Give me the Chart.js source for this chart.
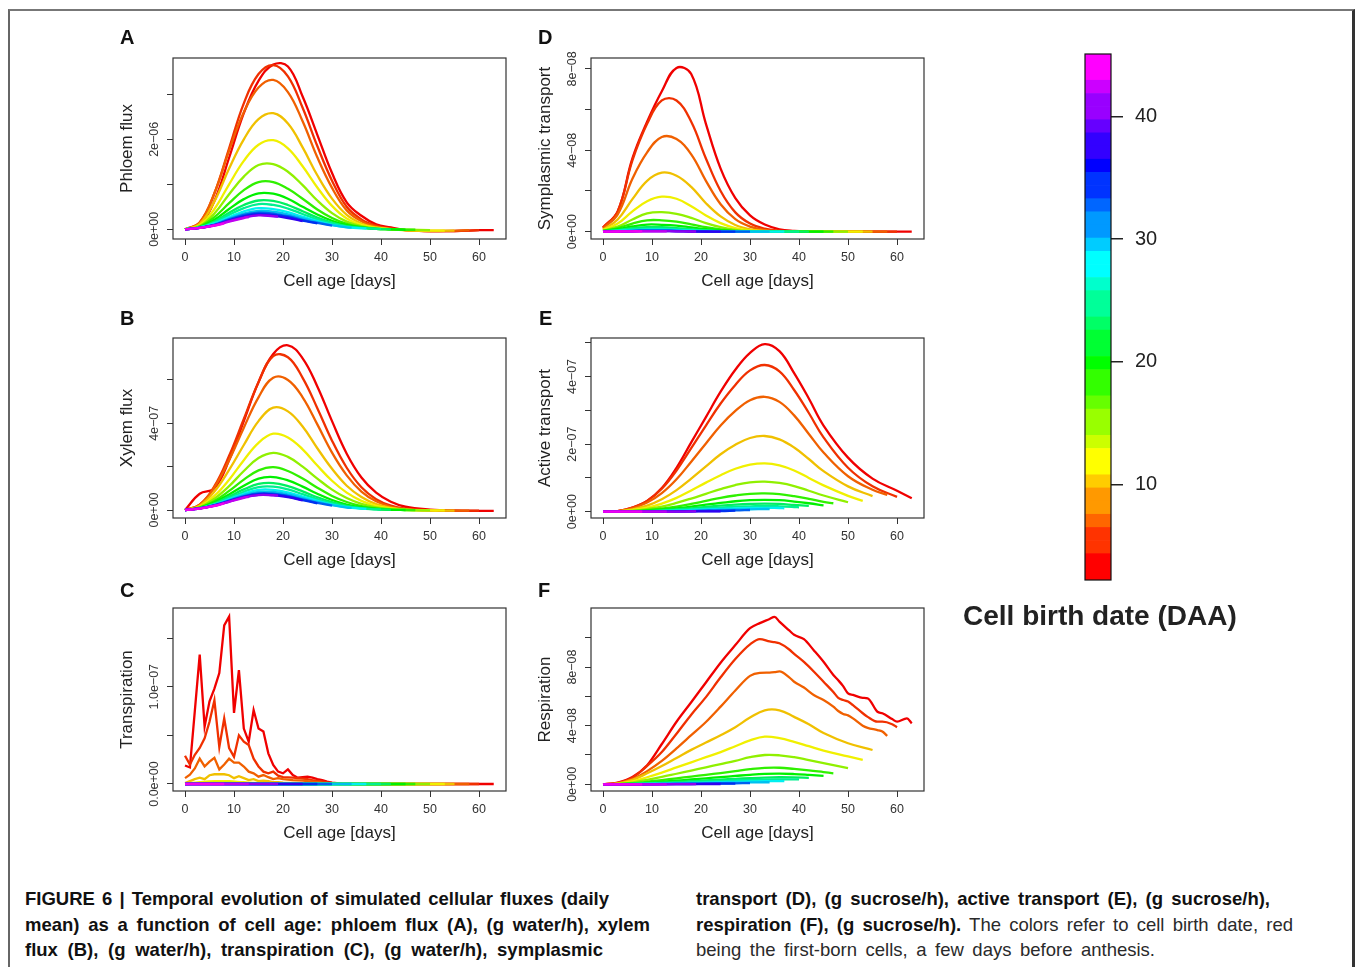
<!DOCTYPE html>
<html><head><meta charset="utf-8"><title>Figure 6</title>
<script src="https://cdn.jsdelivr.net/npm/chart.js@4.4.1/dist/chart.umd.min.js"></script>
<style>
html,body{margin:0;padding:0;background:#fff;width:1355px;height:967px;overflow:hidden;font-family:"Liberation Sans",Arial,sans-serif;}
#frame{position:absolute;left:8px;top:9px;width:1347px;height:1000px;box-sizing:border-box;border-left:2px solid #666;border-top:2px solid #777;border-right:3px solid #333;}
canvas{position:absolute;}
.plabel{position:absolute;font:bold 20px/20px "Liberation Sans",Arial,sans-serif;color:#111;}
#cbtitle{position:absolute;left:963px;top:602px;font:bold 28px/28px "Liberation Sans",Arial,sans-serif;color:#222;white-space:nowrap;}
.cap{position:absolute;font-family:"Liberation Sans Narrow","Liberation Sans",Arial,sans-serif;font-size:18.5px;line-height:25.5px;color:#2a2a2a;white-space:nowrap;transform-origin:left center;}
.cap.b{font-weight:bold;color:#111;}
.cap b{color:#111;}
</style></head>
<body>
<div id="frame"></div>

<canvas id="pA" width="430" height="280" style="left:95px;top:20px"></canvas>
<canvas id="pB" width="430" height="279" style="left:95px;top:300px"></canvas>
<canvas id="pC" width="430" height="282" style="left:95px;top:570px"></canvas>
<canvas id="pD" width="430" height="280" style="left:513px;top:20px"></canvas>
<canvas id="pE" width="430" height="279" style="left:513px;top:300px"></canvas>
<canvas id="pF" width="430" height="282" style="left:513px;top:570px"></canvas>
<canvas id="cbar" width="140" height="580" style="left:1060px;top:30px"></canvas>

<div class="plabel" style="left:120px;top:27px">A</div>
<div class="plabel" style="left:120px;top:308px">B</div>
<div class="plabel" style="left:120px;top:580px">C</div>
<div class="plabel" style="left:538px;top:27px">D</div>
<div class="plabel" style="left:539px;top:308px">E</div>
<div class="plabel" style="left:538px;top:580px">F</div>

<div id="cbtitle">Cell birth date (DAA)</div>

<div class="cap b" data-w="584" style="left:25px;top:886px">FIGURE 6 | Temporal evolution of simulated cellular fluxes (daily</div>
<div class="cap b" data-w="625" style="left:25px;top:911.5px">mean) as a function of cell age: phloem flux (A), (g water/h), xylem</div>
<div class="cap b" data-w="578" style="left:25px;top:937px">flux (B), (g water/h), transpiration (C), (g water/h), symplasmic</div>
<div class="cap b" data-w="574" style="left:696px;top:886px">transport (D), (g sucrose/h), active transport (E), (g sucrose/h),</div>
<div class="cap" data-w="597" style="left:696px;top:911.5px"><b>respiration (F), (g sucrose/h).</b> The colors refer to cell birth date, red</div>
<div class="cap" data-w="459" style="left:696px;top:937px">being the first-born cells, a few days before anthesis.</div>

<script>
// ---------------- data ----------------
const births   = [2,5,7,10,12,15,18,20,23,25,28,30,33,35,38,40,43,45];
const lastAges = [63,60,58,55,53,50,47,45,42,40,37,34,30,27,24,19,13,8];
const ageGrid      = [0,3,6,9,12,15,18,21,24,27,30,33,36,39,42,45,50,55,60];
const ageGridDaily = [0,1,2,3,4,5,6,7,8,9,10,11,12,13,14,15,16,17,18,19,20,21,22,23,24,25,26,27,28,29,30,31,32,36,40,45,50,55,60];
const ageGridResp  = [0,3,6,9,12,15,18,21,24,27,30,32,34,35,36,38,39,41,43,45,47,48,49,50,51,53,54,56,57,59,60,62];
const xTicks = [0,10,20,30,40,50,60];
const xTickLabels = ['0','10','20','30','40','50','60'];

// A: phloem flux (x 1e-6 g water/h)
const yTicksA = [0,1,2,3];
const yTickLabelsA = ['0e+00','','2e\u221206',''];
const phloemFlux = [
 [0,0.11,0.63,1.59,2.58,3.3,3.66,3.62,2.95,2.1,1.25,0.6,0.3,0.11,0.04,-0.02,-0.04,-0.04,-0.02,-0.02],
 [0,0.15,0.8,1.8,2.8,3.45,3.65,3.4,2.7,1.85,1.08,0.5,0.22,0.08,0.02,-0.02,-0.04,-0.04,-0.02],
 [0,0.15,0.8,1.75,2.6,3.15,3.32,3.05,2.4,1.6,0.92,0.42,0.18,0.06,0.01,-0.02,-0.04,-0.03,-0.02],
 [0,0.12,0.62,1.35,2.0,2.45,2.58,2.35,1.82,1.2,0.68,0.32,0.13,0.04,0,-0.02,-0.03,-0.03],
 [0,0.09,0.45,1.0,1.52,1.88,1.98,1.8,1.4,0.93,0.52,0.24,0.1,0.03,0,-0.02,-0.03,-0.03],
 [0,0.07,0.35,0.78,1.17,1.43,1.45,1.28,0.98,0.64,0.36,0.17,0.07,0.02,0,-0.01,-0.02],
 [0,0.06,0.27,0.58,0.87,1.05,1.05,0.9,0.68,0.44,0.25,0.12,0.05,0.01,0,-0.01,-0.01],
 [0,0.05,0.21,0.45,0.67,0.8,0.79,0.68,0.5,0.33,0.19,0.09,0.04,0.01,0,-0.01],
 [0,0.04,0.17,0.37,0.54,0.64,0.63,0.54,0.4,0.26,0.15,0.07,0.03,0.01,0],
 [0,0.04,0.15,0.32,0.47,0.56,0.54,0.46,0.34,0.22,0.13,0.06,0.03,0.01,0.01],
 [0,0.04,0.13,0.27,0.4,0.47,0.45,0.38,0.28,0.18,0.1,0.05,0.02,0.02],
 [0,0.03,0.11,0.24,0.35,0.41,0.39,0.33,0.24,0.16,0.09,0.04,0.04],
 [0,0.03,0.1,0.22,0.32,0.37,0.35,0.29,0.21,0.14,0.08],
 [0,0.03,0.09,0.2,0.29,0.34,0.32,0.27,0.19,0.13],
 [0,0.03,0.09,0.19,0.27,0.32,0.3,0.25,0.18],
 [0,0.03,0.09,0.18,0.26,0.31,0.29,0.28],
 [0,0.03,0.08,0.17,0.25,0.27],
 [0,0.03,0.08,0.13]
];

// B: xylem flux (x 1e-7 g water/h)
const yTicksB = [0,2,4,6];
const yTickLabelsB = ['0e+00','','4e\u221207',''];
const xylemFlux = [
 [0,0.75,1.0,2.3,4.1,5.9,7.2,7.6,7.0,5.7,4.1,2.6,1.5,0.8,0.38,0.15,0.02,-0.03,-0.04,-0.04],
 [0,0.25,1.1,2.5,4.2,5.9,7.1,7.05,6.1,4.7,3.2,1.95,1.05,0.5,0.2,0.06,-0.02,-0.03,-0.03],
 [0,0.25,1.05,2.3,3.8,5.2,6.1,6.0,5.2,3.95,2.65,1.6,0.85,0.4,0.15,0.04,-0.02,-0.03,-0.03],
 [0,0.2,0.85,1.85,3.0,4.1,4.72,4.55,3.85,2.85,1.9,1.12,0.6,0.27,0.1,0.02,-0.02,-0.03],
 [0,0.16,0.65,1.4,2.3,3.1,3.52,3.35,2.8,2.05,1.35,0.8,0.42,0.19,0.07,0.01,-0.02,-0.02],
 [0,0.13,0.52,1.1,1.8,2.4,2.64,2.45,2.0,1.45,0.94,0.55,0.28,0.12,0.04,0,-0.02],
 [0,0.11,0.42,0.88,1.4,1.83,1.98,1.8,1.45,1.03,0.65,0.37,0.18,0.07,0.02,0,-0.01],
 [0,0.1,0.35,0.72,1.12,1.45,1.52,1.37,1.08,0.75,0.46,0.25,0.12,0.05,0.01,0],
 [0,0.09,0.3,0.62,0.95,1.2,1.24,1.1,0.86,0.59,0.36,0.19,0.09,0.03,0.01],
 [0,0.08,0.27,0.55,0.84,1.06,1.08,0.95,0.73,0.5,0.3,0.16,0.07,0.03,0.02],
 [0,0.08,0.25,0.5,0.75,0.93,0.93,0.81,0.62,0.42,0.25,0.13,0.06,0.05],
 [0,0.07,0.23,0.46,0.69,0.84,0.83,0.72,0.55,0.37,0.22,0.11,0.1],
 [0,0.07,0.22,0.43,0.64,0.77,0.76,0.65,0.49,0.33,0.2],
 [0,0.07,0.21,0.41,0.61,0.73,0.72,0.62,0.46,0.31],
 [0,0.07,0.2,0.4,0.59,0.7,0.69,0.59,0.44],
 [0,0.07,0.2,0.39,0.58,0.69,0.68,0.66],
 [0,0.07,0.19,0.38,0.56,0.61],
 [0,0.06,0.19,0.31]
];

// C: transpiration (x 1e-8 g water/h); first four cohorts daily
const yTicksC = [0,5,10,15];
const yTickLabelsC = ['0.0e+00','','1.0e\u221207',''];
const transpirationEarly = [
 [1.9,1.7,7.5,13.3,5.9,8.5,9.8,11.4,16.3,17.2,7.3,11.7,5.7,4.35,7.6,5.7,5.4,3.15,1.95,1.27,1.1,1.5,0.92,0.65,0.7,0.75,0.65,0.5,0.4,0.25,0.15,0.1,0.05,0,0,0,0,0,0,0],
 [2.9,2.0,3.0,3.7,4.7,6.4,8.6,3.8,6.75,3.7,2.8,5.0,4.35,4.0,2.6,1.8,1.27,1.1,1.27,0.85,0.7,0.68,0.65,0.6,0.55,0.5,0.4,0.33,0.25,0.17,0.1,0.05,0.02,0,0,0,0,0,0],
 [0.6,0.95,1.6,2.6,1.8,2.3,2.7,1.5,2.0,2.6,2.2,2.2,1.8,1.27,1.1,0.75,0.92,0.7,0.5,0.6,0.5,0.45,0.4,0.38,0.35,0.3,0.25,0.2,0.12,0.08,0.04,0.02,0,0,0,0,0,0,0],
 [0.1,0.3,0.5,0.65,0.5,0.9,1.0,1.0,1.0,0.9,0.6,0.8,0.6,0.4,0.5,0.3,0.35,0.3,0.2,0.2,0.15,0.12,0.1,0.1,0.08,0.07,0.05,0.04,0.03,0.02,0.01,0,0,0,0,0,0,0]
];
const transpirationLate = [
 [0.05,0.2,0.3,0.28,0.18,0.1,0.06,0.03,0.02,0.01,0,0,0,0,0,0,0,0],
 [0.02,0.08,0.12,0.1,0.07,0.04,0.02,0.01,0,0,0,0,0,0,0,0,0],
 [0.01,0.04,0.05,0.04,0.03,0.02,0.01,0,0,0,0,0,0,0,0,0,0],
 [0,0.02,0.03,0.02,0.02,0.01,0,0,0,0,0,0,0,0,0,0],
 [0,0.01,0.02,0.01,0.01,0,0,0,0,0,0,0,0,0,0],
 [0,0.01,0.01,0.01,0,0,0,0,0,0,0,0,0,0,0],
 [0,0,0.01,0,0,0,0,0,0,0,0,0,0,0],
 [0,0,0,0,0,0,0,0,0,0,0,0,0],
 [0,0,0,0,0,0,0,0,0,0,0],
 [0,0,0,0,0,0,0,0,0,0],
 [0,0,0,0,0,0,0,0,0],
 [0,0,0,0,0,0,0,0],
 [0,0,0,0,0,0],
 [0,0,0,0]
];

// D: symplasmic transport (x 1e-8 g sucrose/h)
const yTicksD = [0,2,4,6,8];
const yTickLabelsD = ['0e+00','','4e\u221208','','8e\u221208'];
const symplasmicTransport = [
 [0.2,1.0,3.6,5.4,6.9,8.05,7.75,5.3,3.1,1.65,0.8,0.35,0.12,0.04,0.01,0,0,0,0,0],
 [0.2,1.0,3.5,5.3,6.45,6.45,5.4,3.6,2.0,0.95,0.4,0.15,0.05,0.01,0,0,0,0,0],
 [0.15,0.85,2.6,3.9,4.65,4.55,3.8,2.5,1.35,0.62,0.25,0.08,0.03,0,0,0,0,0,0],
 [0.1,0.6,1.6,2.5,2.9,2.75,2.2,1.4,0.75,0.33,0.12,0.04,0.01,0,0,0,0,0],
 [0.08,0.4,1.0,1.5,1.72,1.62,1.25,0.8,0.42,0.18,0.06,0.02,0,0,0,0,0,0],
 [0.05,0.25,0.6,0.9,0.96,0.88,0.68,0.42,0.22,0.09,0.03,0.01,0,0,0,0,0],
 [0.04,0.18,0.4,0.56,0.56,0.49,0.36,0.22,0.11,0.04,0.01,0,0,0,0,0,0],
 [0.03,0.12,0.26,0.35,0.34,0.3,0.21,0.12,0.06,0.02,0,0,0,0,0,0],
 [0.02,0.08,0.17,0.22,0.22,0.18,0.12,0.07,0.03,0.01,0,0,0,0,0],
 [0.01,0.06,0.12,0.15,0.15,0.12,0.08,0.05,0.02,0.01,0,0,0,0,0],
 [0.01,0.04,0.08,0.1,0.1,0.08,0.05,0.03,0.01,0,0,0,0,0],
 [0,0.03,0.05,0.07,0.07,0.05,0.03,0.02,0.01,0,0,0,0],
 [0,0.02,0.04,0.05,0.05,0.04,0.02,0.01,0,0,0],
 [0,0.01,0.03,0.04,0.04,0.03,0.02,0.01,0,0],
 [0,0.01,0.02,0.03,0.03,0.02,0.01,0,0],
 [0,0.01,0.02,0.03,0.03,0.02,0.01,0.01],
 [0,0.01,0.02,0.02,0.02,0.02],
 [0,0.01,0.02,0.02]
];

// E: active transport (x 1e-7 g sucrose/h)
const yTicksE = [0,1,2,3,4,5];
const yTickLabelsE = ['0e+00','','2e\u221207','','4e\u221207',''];
const activeTransport = [
 [0,0.02,0.12,0.32,0.7,1.3,2.05,2.8,3.55,4.2,4.7,4.96,4.75,4.1,3.35,2.55,1.6,0.98,0.62,0.4],
 [0,0.02,0.12,0.32,0.68,1.22,1.88,2.55,3.2,3.75,4.18,4.34,4.15,3.6,2.92,2.2,1.3,0.75,0.44],
 [0,0.02,0.1,0.27,0.55,0.96,1.48,2.02,2.55,2.98,3.3,3.4,3.25,2.85,2.3,1.75,1.05,0.65,0.5],
 [0,0.01,0.07,0.18,0.37,0.64,0.98,1.34,1.7,1.98,2.18,2.24,2.14,1.9,1.56,1.2,0.75,0.46],
 [0,0.01,0.05,0.12,0.24,0.41,0.63,0.86,1.08,1.27,1.39,1.43,1.37,1.22,1.0,0.78,0.47,0.32],
 [0,0.01,0.03,0.08,0.15,0.26,0.39,0.53,0.67,0.79,0.87,0.89,0.85,0.76,0.62,0.48,0.28],
 [0,0,0.02,0.05,0.09,0.15,0.23,0.32,0.41,0.48,0.53,0.54,0.52,0.46,0.38,0.29,0.25],
 [0,0,0.01,0.03,0.06,0.1,0.15,0.21,0.26,0.31,0.34,0.35,0.34,0.3,0.25,0.19],
 [0,0,0.01,0.02,0.04,0.07,0.1,0.14,0.18,0.21,0.23,0.24,0.23,0.2,0.17],
 [0,0,0.01,0.01,0.03,0.05,0.07,0.1,0.12,0.15,0.16,0.17,0.16,0.14,0.13],
 [0,0,0,0.01,0.02,0.03,0.05,0.07,0.08,0.1,0.11,0.11,0.11,0.1],
 [0,0,0,0.01,0.01,0.02,0.03,0.05,0.06,0.07,0.07,0.08,0.08],
 [0,0,0,0,0.01,0.01,0.02,0.03,0.04,0.04,0.05],
 [0,0,0,0,0.01,0.01,0.01,0.02,0.02,0.03],
 [0,0,0,0,0,0.01,0.01,0.01,0.01],
 [0,0,0,0,0,0,0.01,0.01],
 [0,0,0,0,0,0],
 [0,0,0,0]
];

// F: respiration (x 1e-8 g sucrose/h); first three cohorts on a finer grid
const yTicksF = [0,2,4,6,8,10];
const yTickLabelsF = ['0e+00','','4e\u221208','','8e\u221208',''];
const respirationEarly = [
 [0,0.12,0.5,1.3,2.75,4.27,5.6,6.95,8.3,9.5,10.65,11.0,11.28,11.43,11.1,10.5,10.2,9.9,9.15,8.36,7.46,7.1,6.7,6.2,6.1,5.9,5.87,4.95,4.85,4.45,4.27,4.5,4.16],
 [0,0.1,0.45,1.25,2.2,3.45,4.75,5.95,7.3,8.55,9.55,9.91,9.75,9.7,9.62,9.2,8.9,8.35,7.7,7.0,6.3,5.9,5.75,5.65,5.4,4.85,4.6,4.27,4.27,4.1,3.9],
 [0,0.08,0.35,0.9,1.6,2.45,3.35,4.25,5.3,6.4,7.4,7.6,7.62,7.65,7.7,7.3,7.0,6.6,6.1,5.75,5.3,5.0,4.8,4.7,4.5,4.0,3.85,3.7,3.6,3.3]
];
const respirationLate = [
 [0,0.05,0.3,0.75,1.25,1.8,2.35,2.85,3.35,3.9,4.55,5.05,5.05,4.6,4.1,3.5,2.8,2.34],
 [0,0.03,0.2,0.48,0.8,1.15,1.5,1.85,2.2,2.6,3.0,3.25,3.15,2.9,2.6,2.3,1.9,1.66],
 [0,0.02,0.12,0.3,0.5,0.72,0.94,1.16,1.38,1.6,1.85,2.0,1.98,1.85,1.65,1.45,1.1],
 [0,0.01,0.07,0.17,0.29,0.41,0.53,0.65,0.77,0.9,1.03,1.12,1.13,1.05,0.95,0.83,0.75],
 [0,0.01,0.04,0.1,0.17,0.25,0.33,0.41,0.49,0.57,0.65,0.71,0.73,0.7,0.64,0.57],
 [0,0,0.03,0.07,0.11,0.16,0.21,0.27,0.32,0.37,0.42,0.46,0.48,0.47,0.44],
 [0,0,0.02,0.04,0.07,0.1,0.14,0.18,0.22,0.26,0.29,0.32,0.33,0.33,0.33],
 [0,0,0.01,0.03,0.05,0.07,0.09,0.12,0.15,0.17,0.19,0.21,0.22,0.22],
 [0,0,0.01,0.02,0.03,0.05,0.06,0.08,0.1,0.11,0.13,0.14,0.14],
 [0,0,0,0.01,0.02,0.03,0.04,0.05,0.06,0.07,0.08],
 [0,0,0,0.01,0.01,0.02,0.02,0.03,0.04,0.04],
 [0,0,0,0,0.01,0.01,0.01,0.02,0.02],
 [0,0,0,0,0,0.01,0.01,0.01],
 [0,0,0,0,0,0],
 [0,0,0,0]
];

// colour bar
const colorbarBreaks = [2.2,3.27,4.35,5.42,6.49,7.56,8.64,9.71,10.78,11.85,12.93,14.0,15.07,16.14,17.22,18.29,19.36,20.43,21.51,22.58,23.65,24.72,25.8,26.87,27.94,29.01,30.09,31.16,32.23,33.3,34.38,35.45,36.52,37.59,38.67,39.74,40.81,41.88,42.96,44.03,45.1];
const colorbarTicks = [10,20,30,40];
const colorbarTickLabels = ['10','20','30','40'];

// ---------------- rendering ----------------
Chart.defaults.font.family = '"Liberation Sans", Arial, sans-serif';
Chart.defaults.color = '#333';

function hueFor(v) {
  const h = Math.round(7.48 * (v - 3.9) / 12) * 12;
  return Math.max(0, Math.min(300, h));
}
function lineColour(b) { return 'hsl(' + hueFor(b) + ',100%,47%)'; }
function barColour(v) { return 'hsl(' + hueFor(v) + ',100%,50%)'; }

function toPoints(grid, end, values) {
  const xs = grid.filter(a => a < end).concat([end]);
  const n = Math.min(xs.length, values.length);
  const pts = [];
  for (let i = 0; i < n; i++) pts.push({x: xs[i], y: values[i]});
  return pts;
}

const boxPlugin = {
  id: 'plotBox',
  afterDatasetsDraw(chart, args, opts) {
    const {ctx, chartArea: a} = chart;
    ctx.save();
    ctx.strokeStyle = opts.color || '#333';
    ctx.lineWidth = opts.width || 1.2;
    ctx.strokeRect(a.left, a.top, a.right - a.left, a.bottom - a.top);
    ctx.restore();
  }
};

const TICK_FONT = 12.5, TICK_LEN = 6;
const measureCtx = document.createElement('canvas').getContext('2d');
function widest(labels, size) {
  measureCtx.font = size + 'px "Liberation Sans", Arial, sans-serif';
  return Math.max(...labels.map(l => measureCtx.measureText(l).width));
}

function makePanel(id, spec) {
  const datasets = spec.series.map((s, i) => ({
    data: toPoints(s.grid, lastAges[i], s.values),
    borderColor: lineColour(births[i]),
    borderWidth: 2.3,
    pointRadius: 0,
    fill: false,
    tension: s.mode === 'straight' ? 0 : 0.4,
    cubicInterpolationMode: s.mode === 'monotone' ? 'monotone' : 'default',
    order: births.length - i
  }));
  const padY = 18 - TICK_LEN - widest(spec.yLabels, TICK_FONT) / 2;
  return new Chart(document.getElementById(id), {
    type: 'line',
    data: {datasets},
    plugins: [boxPlugin],
    options: {
      animation: false, responsive: false, devicePixelRatio: 1, events: [],
      layout: {padding: {left: 0, top: 38, right: 19, bottom: 0}},
      plugins: {legend: {display: false}, tooltip: {enabled: false}, plotBox: {color: '#333', width: 1.2}},
      scales: {
        x: {
          type: 'linear', min: -2.45, max: 65.5,
          afterBuildTicks: s => { s.ticks = xTicks.map(v => ({value: v})); },
          afterFit: s => { s.height = 61; },
          ticks: {callback: (v, i) => xTickLabels[i], padding: 5, color: '#333', font: {size: TICK_FONT}, autoSkip: false, maxRotation: 0, minRotation: 0},
          grid: {drawOnChartArea: false, drawTicks: true, tickLength: TICK_LEN, color: '#333', lineWidth: 1},
          border: {display: false},
          title: {display: true, text: 'Cell age [days]', color: '#222', font: {size: 17}, padding: {top: 0, bottom: 8.8}}
        },
        y: {
          type: 'linear', min: spec.yMin, max: spec.yMax,
          afterBuildTicks: s => { s.ticks = spec.yTicks.map(v => ({value: v})); },
          afterFit: s => { s.width = 78; },
          ticks: {callback: (v, i) => spec.yLabels[i], padding: padY, crossAlign: 'center', minRotation: 90, maxRotation: 90, color: '#333', font: {size: TICK_FONT}, autoSkip: false},
          grid: {drawOnChartArea: false, drawTicks: true, tickLength: TICK_LEN, color: '#333', lineWidth: 1},
          border: {display: false},
          title: {display: true, text: spec.title, color: '#222', font: {size: 17}, padding: {top: 21.8, bottom: 0}}
        }
      }
    }
  });
}

const on = (grid, arrs, mode) => arrs.map(v => ({grid, values: v, mode: mode || 'smooth'}));

makePanel('pA', {title: 'Phloem flux', yMin: -0.216, yMax: 3.807, yTicks: yTicksA, yLabels: yTickLabelsA, series: on(ageGrid, phloemFlux)});
makePanel('pB', {title: 'Xylem flux', yMin: -0.369, yMax: 7.937, yTicks: yTicksB, yLabels: yTickLabelsB, series: on(ageGrid, xylemFlux)});
makePanel('pC', {title: 'Transpiration', yMin: -0.72, yMax: 18.09, yTicks: yTicksC, yLabels: yTickLabelsC,
  series: on(ageGridDaily, transpirationEarly, 'straight').concat(on(ageGrid, transpirationLate))});
makePanel('pD', {title: 'Symplasmic transport', yMin: -0.359, yMax: 8.536, yTicks: yTicksD, yLabels: yTickLabelsD, series: on(ageGrid, symplasmicTransport)});
makePanel('pE', {title: 'Active transport', yMin: -0.186, yMax: 5.139, yTicks: yTicksE, yLabels: yTickLabelsE, series: on(ageGrid, activeTransport)});
makePanel('pF', {title: 'Respiration', yMin: -0.457, yMax: 12.03, yTicks: yTicksF, yLabels: yTickLabelsF,
  series: on(ageGridResp, respirationEarly, 'monotone').concat(on(ageGrid, respirationLate))});

// colour bar
new Chart(document.getElementById('cbar'), {
  type: 'bar',
  data: {
    labels: [''],
    datasets: colorbarBreaks.slice(0, -1).map((lo, k) => ({
      data: [[lo, colorbarBreaks[k + 1]]],
      backgroundColor: barColour((lo + colorbarBreaks[k + 1]) / 2),
      borderWidth: 0, grouped: false, barPercentage: 1, categoryPercentage: 1
    }))
  },
  plugins: [boxPlugin],
  options: {
    animation: false, responsive: false, devicePixelRatio: 1, events: [],
    layout: {padding: {left: 25, top: 22, right: 0, bottom: 30}},
    plugins: {legend: {display: false}, tooltip: {enabled: false}, plotBox: {color: '#111', width: 1.2}},
    scales: {
      x: {display: false},
      y: {
        position: 'right', min: 2.2, max: 45.1,
        afterBuildTicks: s => { s.ticks = colorbarTicks.map(v => ({value: v})); },
        afterFit: s => { s.width = 89; },
        ticks: {callback: (v, i) => colorbarTickLabels[i], padding: 12, color: '#222', font: {size: 20}, autoSkip: false},
        grid: {drawOnChartArea: false, drawTicks: true, tickLength: 12, color: '#222', lineWidth: 1.5},
        border: {display: false}
      }
    }
  }
});

// fit caption lines to their measured widths
document.querySelectorAll('.cap').forEach(el => {
  const W = +el.dataset.w;
  const w = el.getBoundingClientRect().width;
  if (w > W) {
    el.style.transform = 'scaleX(' + (W / w).toFixed(4) + ')';
  } else {
    el.style.whiteSpace = 'normal';
    el.style.width = W + 'px';
    el.style.textAlign = 'justify';
    el.style.textAlignLast = 'justify';
  }
});
</script>
</body></html>
